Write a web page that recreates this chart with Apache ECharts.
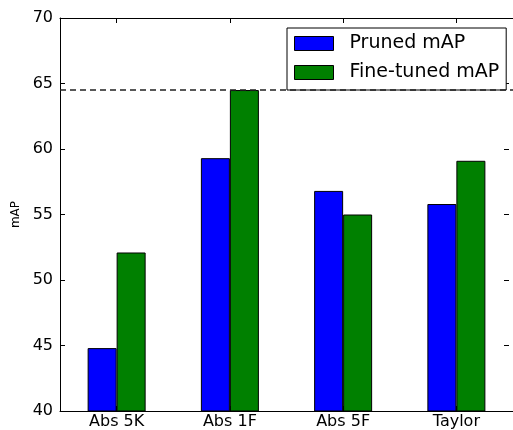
<!DOCTYPE html>
<html>
<head>
<meta charset="utf-8">
<script src="https://cdn.jsdelivr.net/npm/echarts@6/dist/echarts.min.js"></script>
<style>
  html, body { margin: 0; padding: 0; background: #fff; }
  #chart { width: 513px; height: 430px; }
</style>
</head>
<body>
<div id="chart"></div>
<script>
// Pruning methods compared on detection mAP
const categories = ['Abs 5K', 'Abs 1F', 'Abs 5F', 'Taylor'];
const prunedMAP = [44.8, 59.3, 56.8, 55.8];
const fineTunedMAP = [52.1, 64.5, 55.0, 59.1];
const baselineMAP = 64.5;
const yTicks = { min: 40, max: 70, step: 5 };

const FONT = 'DejaVu Sans';
const chart = echarts.init(document.getElementById('chart'), null, { renderer: 'canvas' });

const barStyle = (color) => ({ color: color, borderColor: '#000', borderWidth: 1 });

chart.setOption({
  animation: false,
  backgroundColor: '#fff',
  grid: { left: 60, right: -5, top: 18, bottom: 17, containLabel: false },
  legend: {
    orient: 'vertical',
    left: 287,
    top: 28,
    padding: [6, 7, 8, 7],
    itemWidth: 39,
    itemHeight: 14,
    itemGap: 10,
    backgroundColor: '#fff',
    borderColor: '#000',
    borderWidth: 1,
    borderRadius: 0,
    icon: 'rect',
    textStyle: { fontFamily: FONT, fontSize: 19, color: '#000', lineHeight: 19, padding: [0, 0, 0, 11] },
    data: [
      { name: 'Pruned mAP', itemStyle: { color: '#0000ff', borderColor: '#000', borderWidth: 1 } },
      { name: 'Fine-tuned mAP', itemStyle: { color: '#008000', borderColor: '#000', borderWidth: 1 } }
    ]
  },
  xAxis: [
    {
      type: 'category',
      data: categories,
      position: 'bottom',
      axisLine: { show: true, lineStyle: { color: '#000', width: 1 } },
      axisTick: { show: true, inside: true, length: 5, alignWithLabel: true, lineStyle: { color: '#000' } },
      axisLabel: { fontFamily: FONT, fontSize: 16, color: '#000', margin: 3 },
      splitLine: { show: false }
    },
    {
      type: 'category',
      data: categories,
      position: 'top',
      axisLine: { show: true, lineStyle: { color: '#000', width: 1 } },
      axisTick: { show: true, inside: true, length: 5, alignWithLabel: true, lineStyle: { color: '#000' } },
      axisLabel: { show: false },
      splitLine: { show: false }
    }
  ],
  yAxis: [
    {
      type: 'value',
      min: yTicks.min,
      max: yTicks.max,
      interval: yTicks.step,
      name: 'mAP',
      nameLocation: 'middle',
      nameRotate: 90,
      nameGap: 33,
      nameTextStyle: { fontFamily: FONT, fontSize: 12, color: '#000' },
      axisLine: { show: true, lineStyle: { color: '#000', width: 1 } },
      axisTick: { show: true, inside: true, length: 5, lineStyle: { color: '#000' } },
      axisLabel: { fontFamily: FONT, fontSize: 16, color: '#000', margin: 7 },
      splitLine: { show: false }
    },
    {
      type: 'value',
      position: 'right',
      offset: -4,
      min: yTicks.min,
      max: yTicks.max,
      interval: yTicks.step,
      axisLine: { show: false },
      axisTick: { show: true, inside: true, length: 5, lineStyle: { color: '#000' } },
      axisLabel: { show: false },
      splitLine: { show: false }
    }
  ],
  series: [
    {
      name: 'Pruned mAP',
      type: 'bar',
      data: prunedMAP,
      barWidth: 29,
      barGap: '0%',
      itemStyle: barStyle('#0000ff'),
      markLine: {
        silent: true,
        symbol: ['none', 'none'],
        label: { show: false },
        lineStyle: { color: '#222', type: [6, 4], width: 1.5, opacity: 1 },
        data: [{ yAxis: baselineMAP }]
      }
    },
    {
      name: 'Fine-tuned mAP',
      type: 'bar',
      data: fineTunedMAP,
      barWidth: 29,
      barGap: '0%',
      itemStyle: barStyle('#008000')
    }
  ]
});
</script>
</body>
</html>
